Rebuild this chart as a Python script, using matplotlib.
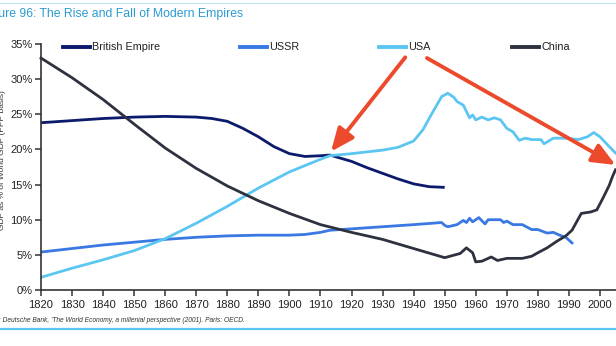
import matplotlib
matplotlib.use("Agg")
import matplotlib.pyplot as plt
from matplotlib.lines import Line2D

plt.rcParams['font.family'] = ['Liberation Sans', 'DejaVu Sans']

# ---------------- data (share of world GDP, %) ----------------
brit_years = [1820, 1830, 1840, 1850, 1860, 1870, 1875, 1880, 1885, 1890, 1895, 1900, 1905,
              1910, 1913, 1920, 1925, 1930, 1935, 1940, 1945, 1950]
brit_vals = [23.8, 24.1, 24.4, 24.6, 24.7, 24.6, 24.4, 24.0, 23.0, 21.8, 20.4, 19.4, 19.0,
             19.1, 19.2, 18.3, 17.4, 16.6, 15.8, 15.1, 14.7, 14.6]

ussr_years = [1820, 1830, 1840, 1850, 1860, 1870, 1880, 1890, 1900, 1905, 1910, 1913, 1920,
              1930, 1940, 1949, 1950, 1951, 1952, 1954, 1956, 1957, 1958, 1959, 1961, 1963,
              1964, 1966, 1968, 1969, 1970, 1972, 1975, 1978, 1980, 1983, 1985, 1987, 1989, 1991]
ussr_vals = [5.4, 5.9, 6.4, 6.8, 7.2, 7.5, 7.7, 7.8, 7.8, 7.9, 8.2, 8.5, 8.7,
             9.0, 9.3, 9.6, 9.2, 9.0, 9.1, 9.3, 9.9, 9.6, 10.2, 9.7, 10.3, 9.4,
             10.0, 10.0, 10.0, 9.6, 9.8, 9.3, 9.3, 8.6, 8.6, 8.1, 8.2, 7.8, 7.5, 6.7]

usa_years = [1820, 1830, 1840, 1850, 1860, 1870, 1880, 1890, 1900, 1910, 1913, 1920, 1930,
             1935, 1940, 1943, 1946, 1949, 1951, 1953, 1954, 1956, 1957, 1958, 1959, 1960,
             1962, 1964, 1966, 1968, 1970, 1972, 1974, 1976, 1978, 1981, 1982, 1985, 1989,
             1993, 1996, 1998, 2000, 2003, 2005]
usa_vals = [1.8, 3.1, 4.3, 5.6, 7.3, 9.5, 11.9, 14.5, 16.8, 18.6, 19.1, 19.4, 19.9,
            20.3, 21.2, 22.8, 25.2, 27.5, 28.0, 27.4, 26.8, 26.3, 25.4, 24.5, 24.9, 24.2,
            24.6, 24.2, 24.5, 24.2, 23.0, 22.5, 21.3, 21.6, 21.4, 21.4, 20.8, 21.6, 21.6,
            21.4, 21.8, 22.4, 21.8, 20.4, 19.5]

china_years = [1820, 1830, 1840, 1850, 1860, 1870, 1880, 1890, 1900, 1910, 1920, 1930, 1940,
               1950, 1955, 1957, 1959, 1960, 1962, 1965, 1967, 1970, 1975, 1978, 1980,
               1983, 1986, 1989, 1991, 1994, 1997, 1999, 2001, 2003, 2004, 2005]
china_vals = [33.0, 30.2, 27.1, 23.6, 20.2, 17.3, 14.8, 12.7, 10.9, 9.3, 8.2, 7.2, 5.9,
              4.6, 5.2, 6.0, 5.3, 4.0, 4.1, 4.7, 4.2, 4.5, 4.5, 4.8, 5.3,
              6.0, 6.9, 7.7, 8.5, 10.9, 11.1, 11.4, 13.1, 14.9, 16.1, 17.1]

series_names = ['British Empire', 'USSR', 'USA', 'China']
colors = ['#0b1a6b', '#3a78e3', '#5cc6f2', '#2e323f']

x_ticks = list(range(1820, 2011, 10))
y_ticks = [0, 5, 10, 15, 20, 25, 30, 35]

# ---------------- figure ----------------
W, H = 616, 346
fig = plt.figure(figsize=(W / 100, H / 100), dpi=100)

def fx(px):
    return px / W

def fy(py):
    return 1 - py / H

ax = fig.add_axes([fx(41), fy(290), fx(631) - fx(41), fy(44) - fy(290)])
ax.set_xlim(1820, 2010)
ax.set_ylim(0, 35)

lw = 2.0
ax.plot(brit_years, brit_vals, color=colors[0], lw=lw, solid_capstyle='butt')
ax.plot(ussr_years, ussr_vals, color=colors[1], lw=lw)
ax.plot(usa_years, usa_vals, color=colors[2], lw=lw)
ax.plot(china_years, china_vals, color=colors[3], lw=lw, clip_on=False)

for s in ['top', 'right']:
    ax.spines[s].set_visible(False)
for s in ['left', 'bottom']:
    ax.spines[s].set_color('#333333')
    ax.spines[s].set_linewidth(1.2)

ax.set_xticks(x_ticks)
ax.set_xticklabels([str(v) for v in x_ticks])
ax.set_yticks(y_ticks)
ax.set_yticklabels([f"{v}%" for v in y_ticks])
ax.tick_params(axis='both', direction='out', length=4, width=1.1, color='#333333',
               labelsize=8, labelcolor='#222222')
ax.tick_params(axis='x', pad=3)
ax.tick_params(axis='y', pad=2)

# red arrows
red = '#ec4a2c'
astyle = '-|>,head_length=1.4,head_width=0.6'
ax.annotate('', xy=(1913.4, 19.7), xytext=(1937.3, 33.1),
            arrowprops=dict(arrowstyle=astyle, color=red, lw=2.8, shrinkA=0, shrinkB=0),
            annotation_clip=False)
ax.annotate('', xy=(2005.0, 17.8), xytext=(1944.3, 33.0),
            arrowprops=dict(arrowstyle=astyle, color=red, lw=2.8, shrinkA=0, shrinkB=0),
            annotation_clip=False)

# legend (manual layout)
leg_x = [63, 240, 379, 512]
leg_y = fy(47)
for name, col, px in zip(series_names, colors, leg_x):
    fig.add_artist(Line2D([fx(px), fx(px + 27)], [leg_y, leg_y], color=col, lw=2.8,
                          transform=fig.transFigure))
    fig.text(fx(px + 29), leg_y, name, fontsize=7.8, va='center', ha='left', color='#222222')

# title (cropped at left)
fig.text(fx(243), fy(14), "Figure 96: The Rise and Fall of Modern Empires",
         fontsize=8.8, color='#2a9ad3', ha='right', va='center')
# rule lines
fig.add_artist(Line2D([0, 1], [fy(2.5), fy(2.5)], color='#bfe3f5', lw=0.8,
                      transform=fig.transFigure))
fig.add_artist(Line2D([0, 1], [fy(329), fy(329)], color='#5cc6f2', lw=1.6,
                      transform=fig.transFigure))

# y label (mostly cropped)
fig.text(fx(3), fy(160), "GDP as % of World GDP (PPP basis)", rotation=90,
         fontsize=6, color='#333333', ha='center', va='center')

# source (cropped at left)
fig.text(fx(245), fy(320),
         "Source: Deutsche Bank, 'The World Economy, a millenial perspective (2001). Paris: OECD.",
         fontsize=4.8, style='italic', color='#333333', ha='right', va='center')

fig.savefig('out.png', dpi=100)
